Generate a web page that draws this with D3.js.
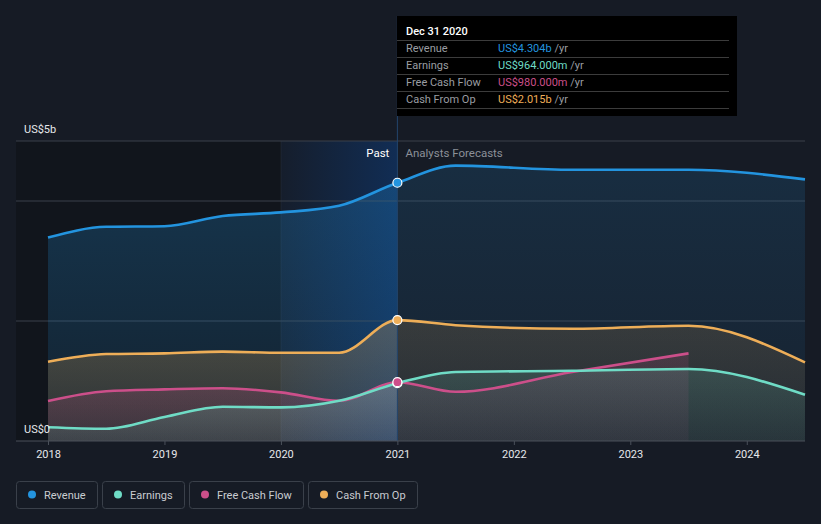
<!DOCTYPE html>
<html>
<head>
<meta charset="utf-8">
<script src="https://cdn.jsdelivr.net/npm/d3@7"></script>
<style>
  html, body { margin: 0; padding: 0; background: #161b25; }
  svg { display: block; font-family: Roboto, "Noto Sans", sans-serif; }
</style>
</head>
<body>
<svg id="chart" width="821" height="524"></svg>
<script>
// ---------- data (values in US$ billions) ----------
const periods      = [2018, 2018.5, 2019, 2019.5, 2020, 2020.5, 2021, 2021.5, 2022.5, 2023.5, 2024.5];
const revenue      = [3.39, 3.57, 3.58, 3.75, 3.81, 3.92, 4.304, 4.59, 4.52, 4.52, 4.36];
const earnings     = [0.23, 0.205, 0.40, 0.57, 0.56, 0.67, 0.964, 1.15, 1.17, 1.20, 0.77];
const freeCashFlow = [0.667, 0.83, 0.86, 0.88, 0.81, 0.67, 0.98, 0.82, 1.15, 1.46];
const cashFromOp   = [1.32, 1.45, 1.46, 1.49, 1.47, 1.47, 2.015, 1.93, 1.87, 1.92, 1.31];

const xTickYears   = [2018, 2019, 2020, 2021, 2022, 2023, 2024];
const yLabelValues = [0, 5];
const yLabelTexts  = ["US$0", "US$5b"];
const gridValues   = [2, 4, 5];

const seriesNames  = ["Revenue", "Earnings", "Free Cash Flow", "Cash From Op"];
const seriesColors = ["#2394df", "#6fdcc6", "#cc4f8a", "#eeae58"];
const tooltipDate  = "Dec 31 2020";
const tooltipVals  = ["US$4.304b", "US$964.000m", "US$980.000m", "US$2.015b"];
const pastEnd = 2021, highlightStart = 2020;

(function () {
// ---------- setup ----------
const svg = d3.select("#chart");
const W = 821, H = 524;
const pL = 16, pR = 805, pT = 141, pB = 441;
const x = d3.scaleLinear().domain([2018, 2024.5]).range([48, 805]);
const y = d3.scaleLinear().domain([0, 5]).range([pB, pT]);

const seriesData = [revenue, earnings, freeCashFlow, cashFromOp].map((vals, i) => ({
  name: seriesNames[i], color: seriesColors[i],
  pts: vals.map((v, j) => ({ t: periods[j], v }))
}));

const defs = svg.append("defs");
svg.append("rect").attr("width", W).attr("height", H).attr("fill", "#161b25");

// dark past region
svg.append("rect").attr("x", pL).attr("y", pT).attr("width", x(highlightStart) - pL)
  .attr("height", pB - pT).attr("fill", "#11151c");

// highlight gradient
const hg = defs.append("linearGradient").attr("id", "hl").attr("x1", 0).attr("x2", 1).attr("y1", 0).attr("y2", 0);
hg.append("stop").attr("offset", 0).attr("stop-color", "#0a4696").attr("stop-opacity", 0.06);
hg.append("stop").attr("offset", 1).attr("stop-color", "#0a4696").attr("stop-opacity", 0.42);
svg.append("rect").attr("x", x(highlightStart)).attr("y", pT).attr("width", x(pastEnd) - x(highlightStart))
  .attr("height", pB - pT).attr("fill", "url(#hl)");
svg.append("line").attr("x1", x(highlightStart)).attr("x2", x(highlightStart)).attr("y1", pT).attr("y2", pB)
  .attr("stroke", "#ffffff").attr("stroke-opacity", 0.05);

// gridlines
svg.append("g").selectAll("line").data(gridValues).join("line")
  .attr("x1", pL).attr("x2", pR).attr("y1", d => y(d)).attr("y2", d => y(d))
  .attr("stroke", "#3a404a").attr("stroke-width", 1);

// clip paths
defs.append("clipPath").attr("id", "clipPast").append("rect")
  .attr("x", 0).attr("y", 0).attr("width", x(pastEnd)).attr("height", H);
defs.append("clipPath").attr("id", "clipFut").append("rect")
  .attr("x", x(pastEnd)).attr("y", 0).attr("width", W - x(pastEnd)).attr("height", H);

const area = d3.area().x(d => x(d.t)).y0(y(0)).y1(d => y(d.v)).curve(d3.curveMonotoneX);
const line = d3.line().x(d => x(d.t)).y(d => y(d.v)).curve(d3.curveMonotoneX);

const drawOrder = [0, 3, 2, 1];
const opac = { past: [0.26, 0.10], fut: [0.15, 0.06] };
drawOrder.forEach(i => {
  const s = seriesData[i];
  const maxV = d3.max(s.pts, d => d.v);
  ["past", "fut"].forEach(p => {
    const id = `g${i}${p}`;
    const g = defs.append("linearGradient").attr("id", id).attr("gradientUnits", "userSpaceOnUse")
      .attr("x1", 0).attr("x2", 0).attr("y1", y(maxV)).attr("y2", y(0));
    g.append("stop").attr("offset", 0).attr("stop-color", s.color).attr("stop-opacity", opac[p][0]);
    g.append("stop").attr("offset", 1).attr("stop-color", s.color).attr("stop-opacity", opac[p][1]);
    svg.append("path").datum(s.pts).attr("d", area).attr("fill", `url(#${id})`)
      .attr("clip-path", `url(#${p === "past" ? "clipPast" : "clipFut"})`);
  });
});

drawOrder.forEach(i => {
  const s = seriesData[i];
  svg.append("path").datum(s.pts).attr("d", line).attr("fill", "none")
    .attr("stroke", s.color).attr("stroke-width", 2.6);
});

// vertical marker line
svg.append("line").attr("x1", x(pastEnd)).attr("x2", x(pastEnd)).attr("y1", 16).attr("y2", pB)
  .attr("stroke", "#23456d").attr("stroke-width", 1);

// markers
seriesData.forEach(s => {
  const p = s.pts.find(d => d.t === pastEnd);
  svg.append("circle").attr("cx", x(p.t)).attr("cy", y(p.v)).attr("r", 4.5)
    .attr("fill", s.color).attr("stroke", "#ffffff").attr("stroke-width", 1.2);
});

// x axis
svg.append("line").attr("x1", pL).attr("x2", pR).attr("y1", pB).attr("y2", pB)
  .attr("stroke", "#4a505a").attr("stroke-width", 1);
const xAxis = svg.append("g").attr("transform", `translate(0,${pB})`)
  .call(d3.axisBottom(x).tickValues(xTickYears).tickFormat(d3.format("d")).tickSize(4).tickPadding(5));
xAxis.select(".domain").remove();
xAxis.selectAll(".tick line").attr("stroke", "#4a505a");
xAxis.selectAll(".tick text").attr("fill", "#e6e8eb").attr("font-size", 11)
  .attr("font-family", "Roboto, sans-serif");

// y labels
svg.append("g").selectAll("text").data(yLabelValues).join("text")
  .attr("x", 24).attr("y", d => y(d) - 8).text((d, i) => yLabelTexts[i])
  .attr("fill", "#e6e8eb").attr("font-size", 11);

// Past / Analysts Forecasts
svg.append("text").attr("x", x(pastEnd) - 8).attr("y", 157).attr("text-anchor", "end")
  .attr("fill", "#ffffff").attr("font-size", 11.5).text("Past");
svg.append("text").attr("x", x(pastEnd) + 8).attr("y", 157)
  .attr("fill", "#8b9098").attr("font-size", 11.5).text("Analysts Forecasts");

// tooltip
const tt = svg.append("g");
tt.append("rect").attr("x", 397).attr("y", 16).attr("width", 340).attr("height", 100).attr("fill", "#000000");
tt.append("text").attr("x", 406).attr("y", 35).attr("fill", "#ffffff").attr("font-size", 11)
  .attr("font-weight", 500).text(tooltipDate);
const rowY = [48.3, 65.3, 82.3, 99.3];
const sepY = [40, 57, 74, 91, 108];
tt.selectAll("line.sep").data(sepY).join("line").attr("class", "sep")
  .attr("x1", 397).attr("x2", 729).attr("y1", d => d + 0.5).attr("y2", d => d + 0.5)
  .attr("stroke", "#3c3c3c");
seriesNames.forEach((n, i) => {
  tt.append("text").attr("x", 406).attr("y", rowY[i] + 4).attr("fill", "#9a9da2")
    .attr("font-size", 11).text(n);
  const t = tt.append("text").attr("x", 498).attr("y", rowY[i] + 4).attr("font-size", 11);
  t.append("tspan").attr("fill", seriesColors[i]).text(tooltipVals[i]);
  t.append("tspan").attr("fill", "#9a9da2").text(" /yr");
});

// legend
let lx = 16;
seriesNames.forEach((n, i) => {
  const g = svg.append("g");
  const rect = g.append("rect").attr("y", 481.5).attr("height", 27).attr("rx", 3)
    .attr("fill", "none").attr("stroke", "#3a404a");
  g.append("circle").attr("cx", lx + 16).attr("cy", 494.5).attr("r", 4).attr("fill", seriesColors[i]);
  const t = g.append("text").attr("x", lx + 28).attr("y", 498.5).attr("fill", "#c9ccd1")
    .attr("font-size", 11).text(n);
  const w = t.node().getComputedTextLength();
  const bw = Math.round(w + 28 + 11);
  rect.attr("x", lx + 0.5).attr("width", bw);
  lx += bw + 5;
});
})();
</script>
</body>
</html>
